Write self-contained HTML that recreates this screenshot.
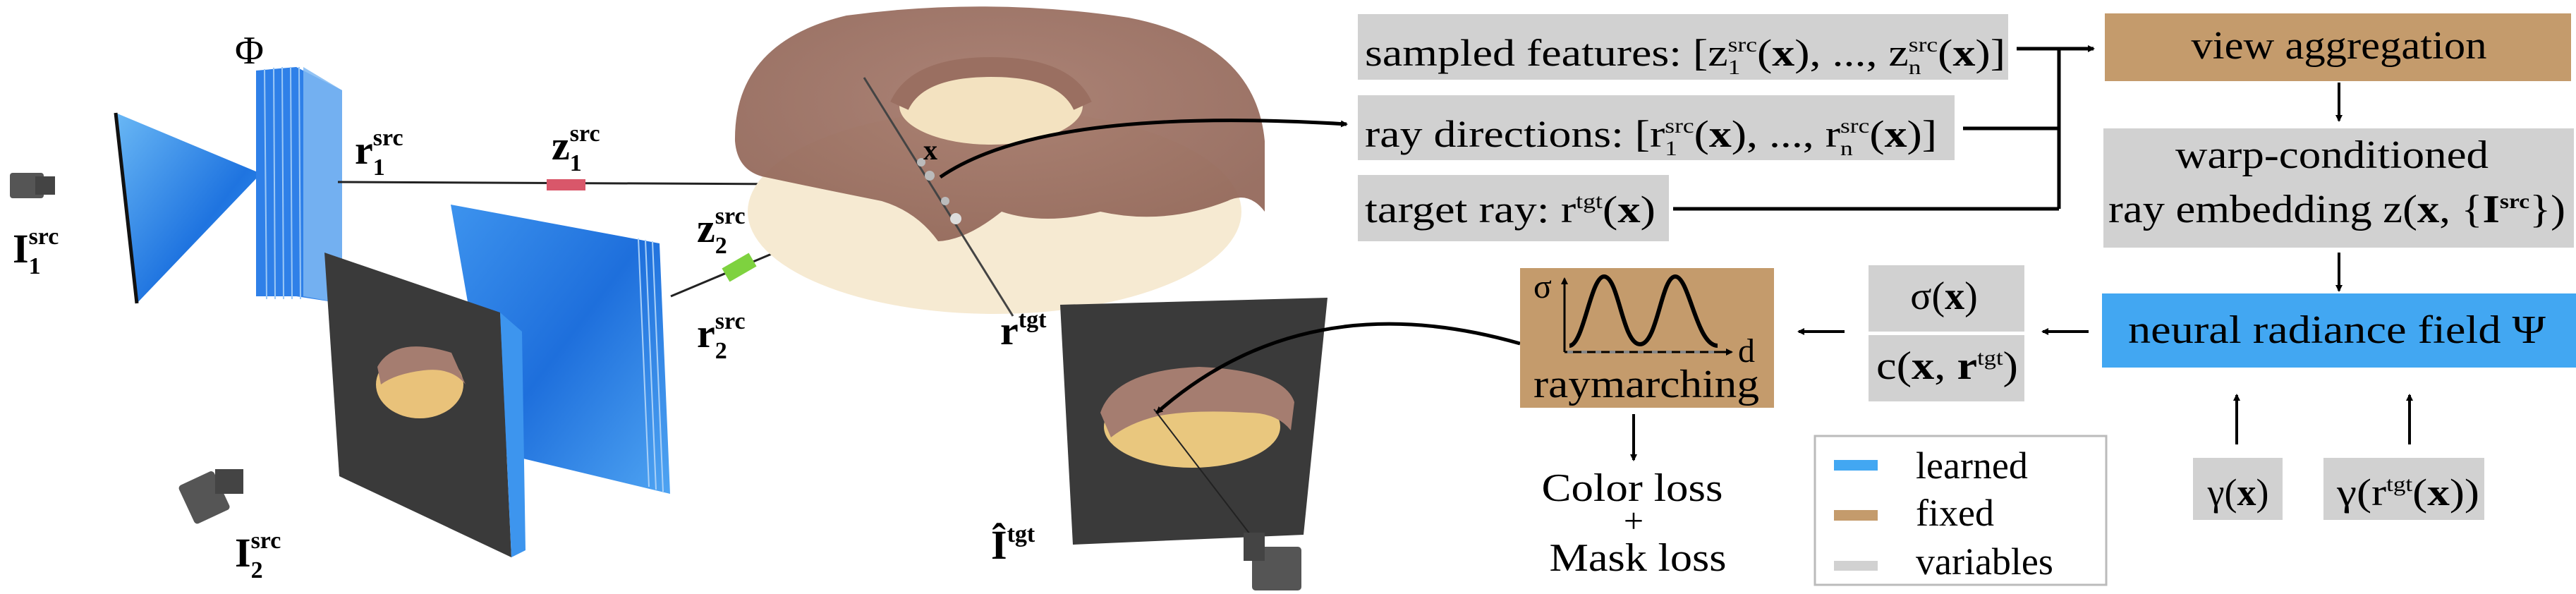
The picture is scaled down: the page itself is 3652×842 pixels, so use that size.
<!DOCTYPE html>
<html><head><meta charset="utf-8"><style>
html,body{margin:0;padding:0;background:#fff;}
svg, svg text{font-family:"Liberation Serif","Times New Roman",serif;}
</style></head><body>
<svg width="3652" height="837" viewBox="0 0 3652 837" xmlns="http://www.w3.org/2000/svg" font-family="Liberation Serif, serif">
<defs>
<linearGradient id="blueg" x1="0" y1="0" x2="1" y2="1"><stop offset="0" stop-color="#6ab8f5"/><stop offset="0.6" stop-color="#1f74e0"/><stop offset="1" stop-color="#3f9cf0"/></linearGradient>
<linearGradient id="plateg" x1="0" y1="0" x2="1" y2="1"><stop offset="0" stop-color="#3d93ee"/><stop offset="0.5" stop-color="#1e6fdc"/><stop offset="1" stop-color="#4fa4f2"/></linearGradient>
<radialGradient id="choc" cx="0.5" cy="0.4" r="0.6"><stop offset="0" stop-color="#a67b6d"/><stop offset="1" stop-color="#93685a"/></radialGradient>
<marker id="ah" markerWidth="10" markerHeight="10" refX="8" refY="5" orient="auto" markerUnits="userSpaceOnUse" viewBox="0 0 10 10"><path d="M0,0 L10,5 L0,10 z" fill="#000"/></marker>
</defs>

<!-- Left 3D part -->
<g><rect x="14" y="245" width="48" height="36" rx="4" fill="#555"/><rect x="50" y="250" width="28" height="26" fill="#444"/></g>
<text x="18" y="372" font-size="58" font-weight="bold">I<tspan font-size="34" dy="16">1</tspan><tspan font-size="34" dx="-17" dy="-42">src</tspan></text>

<g>
<polygon points="164,160 194,430 370,246" fill="url(#blueg)"/>
<line x1="164" y1="160" x2="194" y2="430" stroke="#111" stroke-width="5"/>
</g>
<g>
<polygon points="363,100 420,95 485,128 485,430 420,420 363,420" fill="#2f80e8"/>
<g stroke="#9cc8f5" stroke-width="2"><line x1="375" y1="98" x2="378" y2="424"/><line x1="388" y1="96" x2="390" y2="424"/><line x1="400" y1="95" x2="402" y2="424"/><line x1="412" y1="95" x2="414" y2="424"/><line x1="424" y1="95" x2="426" y2="424"/></g>
<polygon points="430,95 485,128 485,430 430,420" fill="#7fb8f2" opacity="0.85"/>
</g>
<text x="333" y="90" font-size="56">Φ</text>

<text x="503" y="232" font-size="58" font-weight="bold">r<tspan font-size="34" dy="16">1</tspan><tspan font-size="34" dx="-17" dy="-42">src</tspan></text>
<line x1="479" y1="258" x2="1327" y2="262" stroke="#222" stroke-width="3"/>
<rect x="775" y="254" width="55" height="16" fill="#d9576a"/>
<text x="782" y="226" font-size="58" font-weight="bold">z<tspan font-size="34" dy="16">1</tspan><tspan font-size="34" dx="-17" dy="-42">src</tspan></text>

<g>
<polygon points="639,290 935,345 950,700 700,640" fill="url(#plateg)"/>
<g stroke="#a9d0f7" stroke-width="2"><line x1="905" y1="338" x2="920" y2="690"/><line x1="915" y1="340" x2="930" y2="694"/><line x1="925" y1="342" x2="940" y2="697"/></g>
</g>
<g>
<polygon points="460,358 709,443 725,790 481,675" fill="#3a3a3a"/>
<polygon points="709,443 740,470 745,780 725,790" fill="#3d95ee"/>
<ellipse cx="595" cy="545" rx="62" ry="48" fill="#e9c27a"/>
<path d="M535,520 Q560,475 640,500 L660,545 Q640,520 600,525 Q560,530 540,545 z" fill="#a57d70"/>
</g>
<line x1="951" y1="420" x2="1327" y2="262" stroke="#222" stroke-width="3"/>
<rect x="1026" y="368" width="44" height="22" fill="#7ed23f" transform="rotate(-30 1048 379)"/>
<text x="988" y="343" font-size="58" font-weight="bold">z<tspan font-size="34" dy="16">2</tspan><tspan font-size="34" dx="-17" dy="-42">src</tspan></text>
<text x="988" y="492" font-size="58" font-weight="bold">r<tspan font-size="34" dy="16">2</tspan><tspan font-size="34" dx="-17" dy="-42">src</tspan></text>
<g><rect x="262" y="675" width="55" height="60" rx="5" fill="#555" transform="rotate(-25 290 705)"/><rect x="305" y="665" width="40" height="35" fill="#444"/></g>
<text x="333" y="803" font-size="58" font-weight="bold">I<tspan font-size="34" dy="16">2</tspan><tspan font-size="34" dx="-17" dy="-42">src</tspan></text>

<g>
<ellipse cx="1410" cy="300" rx="350" ry="145" fill="#f6ead2"/>
<path d="M1042,200 Q1040,60 1200,22 Q1400,-5 1600,25 Q1780,60 1793,200 L1793,300 Q1770,270 1740,285 Q1650,320 1560,300 Q1480,320 1420,300 Q1370,340 1330,342 Q1300,300 1250,285 Q1150,265 1080,250 Q1045,240 1042,200 Z" fill="url(#choc)" opacity="0.94"/>
<ellipse cx="1405" cy="150" rx="130" ry="55" fill="#f3e2c0"/>
<path d="M1275,150 Q1300,95 1405,95 Q1510,95 1535,150" fill="none" stroke="#9a6f61" stroke-width="28"/>
<line x1="1225" y1="110" x2="1436" y2="448" stroke="#444" stroke-width="3"/>
<circle cx="1318" cy="249" r="7" fill="#bbb"/><circle cx="1306" cy="230" r="6" fill="#bbb"/><circle cx="1340" cy="285" r="6" fill="#bbb"/><circle cx="1355" cy="310" r="8" fill="#ddd"/>
</g>
<text x="1309" y="226" font-size="40" font-weight="bold">x</text>

<g>
<polygon points="1503,432 1882,422 1848,758 1521,772" fill="#3a3a3a"/>
<ellipse cx="1690" cy="605" rx="125" ry="58" fill="#e9c77e"/>
<path d="M1560,585 Q1580,525 1700,520 Q1820,525 1835,570 L1830,610 Q1810,585 1770,585 Q1690,580 1640,590 Q1600,600 1575,620 z" fill="#a57d70"/>
</g>
<line x1="1636" y1="580" x2="1805" y2="800" stroke="#222" stroke-width="2"/>
<g><rect x="1775" y="775" width="70" height="62" rx="5" fill="#555"/><rect x="1763" y="755" width="30" height="40" fill="#444"/></g>
<text x="1418" y="488" font-size="58" font-weight="bold">r<tspan font-size="34" dy="-24">tgt</tspan></text>
<text x="1405" y="792" font-size="58" font-weight="bold">Î<tspan font-size="34" dy="-24">tgt</tspan></text>

<path d="M1333,251 Q1480,150 1909,176" fill="none" stroke="#000" stroke-width="5" marker-end="url(#ah)"/>
<path d="M2155,487 Q1850,400 1640,585" fill="none" stroke="#000" stroke-width="5" marker-end="url(#ah)"/>

<!-- Right flow -->
<rect x="1925" y="20" width="922" height="93" fill="#d1d1d1"/>
<text x="1935" y="93" font-size="54" textLength="908" lengthAdjust="spacingAndGlyphs">sampled features: [z<tspan font-size="30" dy="12">1</tspan><tspan font-size="30" dx="-15" dy="-32">src</tspan><tspan dy="20">(</tspan><tspan font-weight="bold">x</tspan>), ..., z<tspan font-size="30" dy="12">n</tspan><tspan font-size="30" dx="-15" dy="-32">src</tspan><tspan dy="20">(</tspan><tspan font-weight="bold">x</tspan>)]</text>

<rect x="1925" y="135" width="846" height="92" fill="#d1d1d1"/>
<text x="1935" y="208" font-size="54" textLength="811" lengthAdjust="spacingAndGlyphs">ray directions: [r<tspan font-size="30" dy="12">1</tspan><tspan font-size="30" dx="-15" dy="-32">src</tspan><tspan dy="20">(</tspan><tspan font-weight="bold">x</tspan>), ..., r<tspan font-size="30" dy="12">n</tspan><tspan font-size="30" dx="-15" dy="-32">src</tspan><tspan dy="20">(</tspan><tspan font-weight="bold">x</tspan>)]</text>

<rect x="1925" y="248" width="441" height="94" fill="#d1d1d1"/>
<text x="1935" y="315" font-size="54" textLength="412" lengthAdjust="spacingAndGlyphs">target ray: r<tspan font-size="30" dy="-20">tgt</tspan><tspan dy="20">(</tspan><tspan font-weight="bold">x</tspan>)</text>

<g stroke="#000" stroke-width="5" fill="none">
<line x1="2859" y1="69" x2="2919" y2="69"/>
<line x1="2919" y1="69" x2="2919" y2="296"/>
<line x1="2783" y1="182" x2="2919" y2="182"/>
<line x1="2372" y1="296" x2="2919" y2="296"/>
<line x1="2919" y1="69" x2="2968" y2="69" marker-end="url(#ah)"/>
</g>

<rect x="2984" y="19" width="661" height="96" fill="#c49b6c"/>
<text x="3316" y="83" font-size="56" text-anchor="middle" textLength="419" lengthAdjust="spacingAndGlyphs">view aggregation</text>
<line x1="3316" y1="117" x2="3316" y2="171" stroke="#000" stroke-width="4" marker-end="url(#ah)"/>

<rect x="2982" y="182" width="667" height="169" fill="#d1d1d1"/>
<text x="3306" y="238" font-size="56" text-anchor="middle" textLength="444" lengthAdjust="spacingAndGlyphs">warp-conditioned</text>
<text x="2989" y="315" font-size="56" textLength="648" lengthAdjust="spacingAndGlyphs">ray embedding z(<tspan font-weight="bold">x</tspan>, {<tspan font-weight="bold">I</tspan><tspan font-size="30" dy="-20" font-weight="bold">src</tspan><tspan dy="20">})</tspan></text>
<line x1="3316" y1="358" x2="3316" y2="412" stroke="#000" stroke-width="4" marker-end="url(#ah)"/>

<rect x="2980" y="416" width="672" height="105" fill="#42a7f2"/>
<text x="3017" y="486" font-size="56" textLength="592" lengthAdjust="spacingAndGlyphs">neural radiance field  Ψ</text>

<line x1="2961" y1="470" x2="2896" y2="470" stroke="#000" stroke-width="4" marker-end="url(#ah)"/>
<rect x="2649" y="376" width="221" height="94" fill="#d1d1d1"/>
<text x="2756" y="438" font-size="56" text-anchor="middle">σ(<tspan font-weight="bold">x</tspan>)</text>
<rect x="2649" y="475" width="221" height="94" fill="#d1d1d1"/>
<text x="2660" y="537" font-size="56" textLength="201" lengthAdjust="spacingAndGlyphs">c(<tspan font-weight="bold">x</tspan>, <tspan font-weight="bold">r</tspan><tspan font-size="30" dy="-20">tgt</tspan><tspan dy="20">)</tspan></text>
<line x1="2615" y1="470" x2="2550" y2="470" stroke="#000" stroke-width="4" marker-end="url(#ah)"/>

<rect x="2155" y="380" width="360" height="198" fill="#c49b6c"/>
<g>
<line x1="2218" y1="499" x2="2218" y2="395" stroke="#000" stroke-width="3" marker-end="url(#ah)"/>
<line x1="2218" y1="499" x2="2455" y2="499" stroke="#000" stroke-width="3" marker-end="url(#ah)"/>
<line x1="2222" y1="499" x2="2440" y2="499" stroke="#888" stroke-width="4" stroke-dasharray="8 12"/>
<path d="M2225,490 C2245,490 2255,392 2274,392 C2295,392 2300,488 2325,488 C2350,488 2355,392 2375,392 C2395,392 2405,490 2435,490" fill="none" stroke="#000" stroke-width="6"/>
</g>
<text x="2174" y="422" font-size="48">σ</text>
<text x="2464" y="513" font-size="48">d</text>
<text x="2334" y="563" font-size="56" text-anchor="middle" textLength="320" lengthAdjust="spacingAndGlyphs">raymarching</text>
<line x1="2316" y1="587" x2="2316" y2="652" stroke="#000" stroke-width="4" marker-end="url(#ah)"/>
<text x="2314" y="710" font-size="56" text-anchor="middle" textLength="257" lengthAdjust="spacingAndGlyphs">Color loss</text>
<text x="2316" y="755" font-size="50" text-anchor="middle">+</text>
<text x="2322" y="809" font-size="56" text-anchor="middle" textLength="251" lengthAdjust="spacingAndGlyphs">Mask loss</text>

<g>
<rect x="2573" y="618" width="413" height="211" fill="#fff" stroke="#bbb" stroke-width="3"/>
<rect x="2600" y="652" width="62" height="15" fill="#42a7f2"/>
<text x="2716" y="678" font-size="54">learned</text>
<rect x="2600" y="723" width="62" height="15" fill="#c49b6c"/>
<text x="2716" y="745" font-size="54">fixed</text>
<rect x="2600" y="795" width="62" height="14" fill="#d1d1d1"/>
<text x="2716" y="814" font-size="54">variables</text>
</g>

<line x1="3171" y1="630" x2="3171" y2="560" stroke="#000" stroke-width="4" marker-end="url(#ah)"/>
<line x1="3416" y1="630" x2="3416" y2="560" stroke="#000" stroke-width="4" marker-end="url(#ah)"/>
<rect x="3109" y="649" width="127" height="88" fill="#d1d1d1"/>
<text x="3173" y="716" font-size="54" text-anchor="middle">γ(<tspan font-weight="bold">x</tspan>)</text>
<rect x="3294" y="649" width="228" height="88" fill="#d1d1d1"/>
<text x="3313" y="716" font-size="54" textLength="202" lengthAdjust="spacingAndGlyphs">γ(r<tspan font-size="30" dy="-20">tgt</tspan><tspan dy="20">(</tspan><tspan font-weight="bold">x</tspan>))</text>
</svg>
</body></html>
